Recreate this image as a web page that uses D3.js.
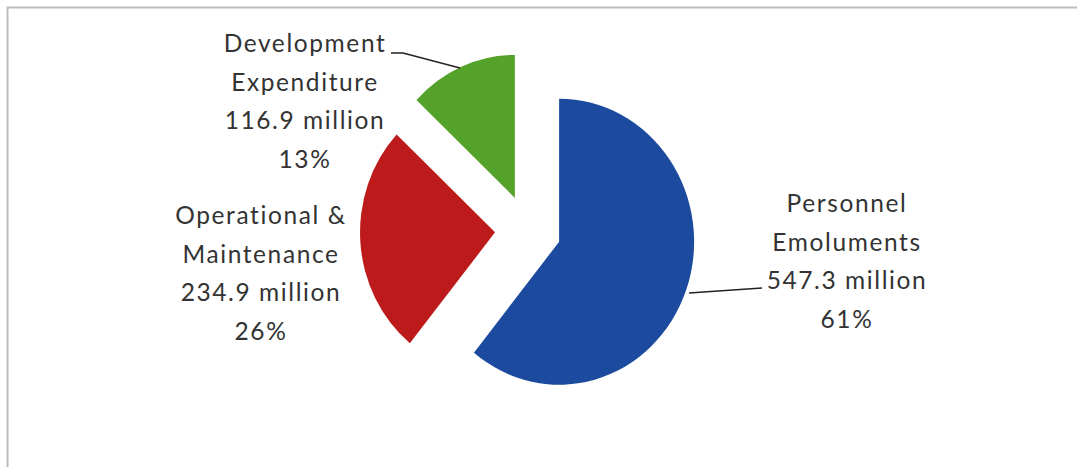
<!DOCTYPE html>
<html>
<head>
<meta charset="utf-8">
<script src="https://cdn.jsdelivr.net/npm/d3@7"></script>
<style>
  body { margin: 0; background: #fff; }
  svg text { font-family: Lato, "Open Sans", sans-serif; fill: #333; }
</style>
</head>
<body>
<div id="chart"></div>
<script>
// data
const categories = ["Personnel Emoluments", "Operational & Maintenance", "Development Expenditure"];
const amounts = [547.3, 234.9, 116.9];
const percentLabels = ["61%", "26%", "13%"];
const labelLines = [
  ["Personnel", "Emoluments", "547.3 million", "61%"],
  ["Operational &", "Maintenance", "234.9 million", "26%"],
  ["Development", "Expenditure", "116.9 million", "13%"],
];
const sliceColors = ["#1b4a9e", "#bd1b1b", "#55a22a"];

//size
const width = 1077;
const height = 467;
const cx = 528, cy = 230;
const radius = 143;
const squeeze = 0.944; // scanned pie is a little narrower than tall
const explode = 35;

const svg = d3.select("#chart")
  .append("svg")
  .attr("width", width)
  .attr("height", height);

// frame
svg.append("path")
  .attr("d", `M7.5,${height} V7.5 H${width}`)
  .attr("fill", "none")
  .attr("stroke", "#bdbdbd")
  .attr("stroke-width", 2);

const pie = d3.pie().sort(null).value((d) => d);
const arcs = pie(amounts);
const arc = d3.arc().innerRadius(0).outerRadius(radius);

const g = svg.append("g")
  .attr("transform", `translate(${cx},${cy}) scale(${squeeze},1)`);

g.selectAll("path.slice")
  .data(arcs)
  .join("path")
  .attr("class", "slice")
  .attr("fill", (d, i) => sliceColors[i])
  .attr("transform", (d) => {
    const a = (d.startAngle + d.endAngle) / 2;
    return `translate(${explode * Math.sin(a)},${-explode * Math.cos(a)})`;
  })
  .attr("d", arc);

// labels
const labelPos = [
  { x: 847, y: 212 },
  { x: 261, y: 224 },
  { x: 305, y: 52 },
];
const lineGap = 38.7;

const labels = svg.selectAll("text.label")
  .data(labelLines)
  .join("text")
  .attr("class", "label")
  .attr("text-anchor", "middle")
  .attr("font-size", 24.5)
  .attr("letter-spacing", 1.6);

labels.selectAll("tspan")
  .data((d, i) => d.map((t) => ({ t, i })))
  .join("tspan")
  .attr("x", (d) => labelPos[d.i].x)
  .attr("y", (d, j) => labelPos[d.i].y + j * lineGap)
  .text((d) => d.t);

// leader lines
const leaders = [
  [[689, 293], [762, 288]],
  null,
  [[391, 53], [403, 53], [460, 68]],
];
svg.selectAll("path.leader")
  .data(leaders.filter((d) => d))
  .join("path")
  .attr("class", "leader")
  .attr("fill", "none")
  .attr("stroke", "#222")
  .attr("stroke-width", 1.5)
  .attr("d", d3.line());
</script>
</body>
</html>
